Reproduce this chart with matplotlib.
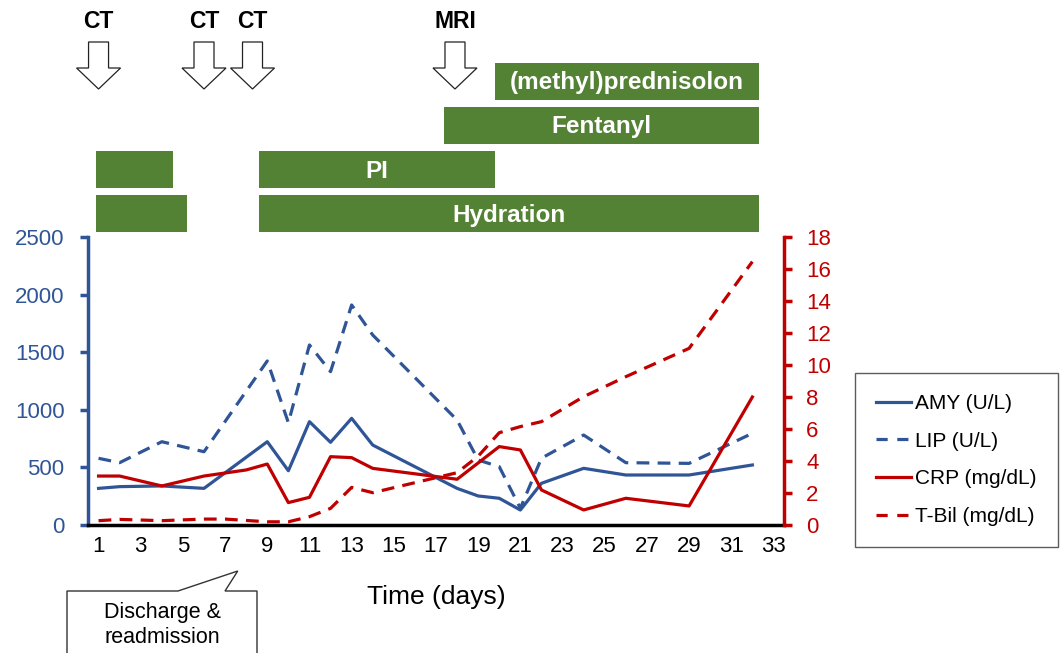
import numpy as np
import matplotlib
matplotlib.use("Agg")
import matplotlib.pyplot as plt
from matplotlib.patches import Polygon
from matplotlib.lines import Line2D

plt.rcParams['font.family'] = ['Liberation Sans', 'DejaVu Sans']

# lab values per day
amy_days = [1, 2, 4, 6, 9, 10, 11, 12, 13, 14, 18, 19, 20, 21, 22, 24, 26, 29, 32]
amy = [318, 333, 339, 318, 723, 471, 897, 718, 926, 694, 318, 252, 232, 130, 362, 492, 434, 434, 521]

lip_days = [1, 2, 4, 6, 9, 10, 11, 12, 13, 14, 18, 19, 20, 21, 22, 24, 26, 29, 32]
lip = [579, 541, 723, 636, 1424, 888, 1563, 1331, 1910, 1649, 911, 564, 506, 145, 580, 781, 541, 535, 796]

crp_days = [1, 2, 4, 6, 8, 9, 10, 11, 12, 13, 14, 18, 20, 21, 22, 24, 26, 29, 32]
crp = [3.06, 3.06, 2.44, 3.06, 3.44, 3.81, 1.4, 1.73, 4.27, 4.21, 3.54, 2.86, 4.9, 4.69, 2.19, 0.94, 1.67, 1.19, 8.0]

tbil_days = [1, 2, 4, 6, 7, 9, 10, 11, 12, 13, 14, 18, 19, 20, 21, 22, 24, 26, 29, 32]
tbil = [0.27, 0.35, 0.27, 0.37, 0.37, 0.2, 0.2, 0.52, 1.04, 2.35, 2.02, 3.27, 4.3, 5.77, 6.15, 6.46, 8.02, 9.27, 11.04, 16.46]

# treatments (day ranges), row 0 = bottom
treat_labels = ['', 'Hydration', '', 'PI', 'Fentanyl', '(methyl)prednisolon']
treat_start = [0.9, 8.6, 0.9, 8.6, 17.4, 19.8]
treat_end = [5.2, 32.3, 4.55, 19.8, 32.3, 32.3]
treat_row = [0, 0, 1, 1, 2, 3]

# imaging
img_labels = ['CT', 'CT', 'CT', 'MRI']
img_days = [1, 6, 8.3, 17.9]

blue = '#2F5597'
red = '#C00000'
green = '#548235'

W, H = 1060, 653
fig = plt.figure(figsize=(10.6, 6.53), dpi=100)

ax = fig.add_axes([88 / W, 1 - 525 / H, (784 - 88) / W, (525 - 237) / H])
ax2 = ax.twinx()

ax.plot(amy_days, amy, color=blue, lw=2.3)
ax.plot(lip_days, lip, color=blue, lw=2.3, dashes=(4, 2.6))
ax2.plot(crp_days, crp, color=red, lw=2.3)
ax2.plot(tbil_days, tbil, color=red, lw=2.3, dashes=(4, 2.6))

ax.set_xlim(0.5, 33.5)
ax.set_ylim(0, 2500)
ax2.set_ylim(0, 18)
ax.set_xticks(range(1, 34, 2))
ax.set_yticks(range(0, 2501, 500))
ax2.set_yticks(range(0, 19, 2))

for s in ['top', 'right']:
    ax.spines[s].set_visible(False)
for s in ['top', 'left', 'bottom']:
    ax2.spines[s].set_visible(False)
ax.spines['left'].set_color(blue)
ax.spines['left'].set_linewidth(2.5)
ax.spines['bottom'].set_color('black')
ax.spines['bottom'].set_linewidth(2.5)
ax2.spines['right'].set_color(red)
ax2.spines['right'].set_linewidth(2.5)

ax.tick_params(axis='x', length=0, pad=8, labelsize=16)
ax.tick_params(axis='y', direction='out', length=6, width=2.5, color=blue,
               labelcolor=blue, labelsize=16, pad=11)
ax2.tick_params(axis='y', direction='out', length=6, width=2.5, color=red,
                labelcolor=red, labelsize=16, pad=10)
ax.set_xlabel('Time (days)', fontsize=19, labelpad=20)

# treatment bars and imaging arrows above the plot
top = fig.add_axes([88 / W, 1 - 237 / H, (784 - 88) / W, 237 / H])
top.set_xlim(0.5, 33.5)
top.set_ylim(237, 0)
top.axis('off')

row_y = [214 - 44.3 * r for r in treat_row]
top.barh(row_y, np.array(treat_end) - np.array(treat_start), left=treat_start,
         height=37, color=green)
for lab, s, e, y in zip(treat_labels, treat_start, treat_end, row_y):
    if lab:
        top.text((s + e) / 2, y + 1.5, lab, color='white', fontsize=17.5, fontweight='bold',
                 ha='center', va='center')

day_px = 696 / 33.0
sw = 10 / day_px
hw = 22 / day_px
for lab, d in zip(img_labels, img_days):
    verts = [(d - sw, 42), (d + sw, 42), (d + sw, 68), (d + hw, 68), (d, 89),
             (d - hw, 68), (d - sw, 68)]
    top.add_patch(Polygon(verts, closed=True, facecolor='white', edgecolor='#222222',
                          lw=0.9, clip_on=False))
    top.text(d, 21, lab, fontsize=16.5, fontweight='bold', ha='center', va='center')

# callout
def fp(x, y):
    return (x / W, 1 - y / H)

tip_x = 88 + (7.6 - 0.5) * day_px
call = [fp(67, 660), fp(67, 591), fp(178, 591), fp(tip_x, 571), fp(225, 591),
        fp(257, 591), fp(257, 660)]
fig.patches.append(Polygon(call, closed=True, facecolor='white', edgecolor='#333333',
                           lw=1.0, transform=fig.transFigure, figure=fig))
fig.text(162 / W, 1 - 625 / H, 'Discharge &\nreadmission', fontsize=15.5,
         ha='center', va='center', linespacing=1.3)

handles = [Line2D([], [], color=blue, lw=2.3),
           Line2D([], [], color=blue, lw=2.3, dashes=(3.5, 3)),
           Line2D([], [], color=red, lw=2.3),
           Line2D([], [], color=red, lw=2.3, dashes=(3.5, 3))]
labels = ['AMY (U/L)', 'LIP (U/L)', 'CRP (mg/dL)', 'T-Bil (mg/dL)']
leg = fig.legend(handles, labels, loc='upper left', bbox_to_anchor=(855 / W, 1 - 373 / H),
                 fontsize=15, frameon=True, fancybox=False, edgecolor='#333333',
                 borderpad=1.0, labelspacing=0.9, handlelength=1.7, handletextpad=0.2,
                 borderaxespad=0)
leg.get_frame().set_linewidth(1.0)

fig.savefig('out.png', dpi=100)
